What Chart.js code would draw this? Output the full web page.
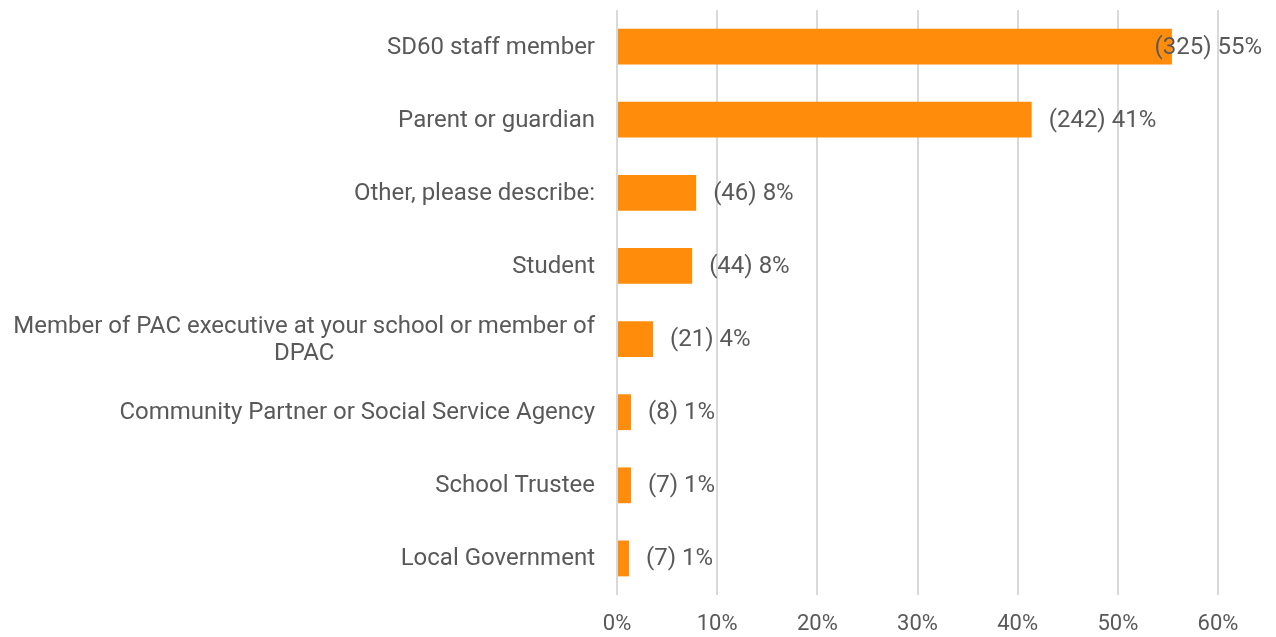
<!DOCTYPE html>
<html>
<head>
<meta charset="utf-8">
<script src="https://cdn.jsdelivr.net/npm/chart.js@4"></script>
<style>
  html, body { margin: 0; padding: 0; background: #fff; }
  #wrap { width: 1276px; height: 637px; }
</style>
</head>
<body>
<div id="wrap"><canvas id="myChart"></canvas></div>
<script>
const categories = [
  'SD60 staff member',
  'Parent or guardian',
  'Other, please describe:',
  'Student',
  ['Member of PAC executive at your school or member of', 'DPAC'],
  'Community Partner or Social Service Agency',
  'School Trustee',
  'Local Government'
]
const counts = [325, 242, 46, 44, 21, 8, 7, 7]
const percents = [55.4, 41.4, 7.9, 7.5, 3.6, 1.4, 1.4, 1.2]
const xTicks = [0, 10, 20, 30, 40, 50, 60]

const textColor = '#595959'
const fontFamily = 'Roboto, "Noto Sans", sans-serif'
const fontSize = 24

// category labels drawn by hand so wrapped lines are centred like the original
const categoryLabels = {
  id: 'categoryLabels',
  afterDraw(chart) {
    const ctx = chart.ctx
    const y = chart.scales.y
    const right = chart.chartArea.left - 22
    const lh = 27
    ctx.save()
    ctx.font = `${fontSize}px ${fontFamily}`
    ctx.fillStyle = textColor
    ctx.textBaseline = 'middle'
    ctx.textAlign = 'center'
    categories.forEach((lab, i) => {
      const lines = Array.isArray(lab) ? lab : [lab]
      const w = Math.max(...lines.map(l => ctx.measureText(l).width))
      const cx = right - w / 2
      const cy = y.getPixelForValue(i) + 1
      lines.forEach((l, j) => {
        ctx.fillText(l, cx, cy + (j - (lines.length - 1) / 2) * lh)
      })
    })
    ctx.restore()
  }
}

// value labels "(n) p%" after each bar, kept inside the canvas
const valueLabels = {
  id: 'valueLabels',
  afterDatasetsDraw(chart) {
    const ctx = chart.ctx
    const meta = chart.getDatasetMeta(0)
    ctx.save()
    ctx.font = `${fontSize}px ${fontFamily}`
    ctx.fillStyle = textColor
    ctx.textBaseline = 'middle'
    ctx.textAlign = 'left'
    meta.data.forEach((bar, i) => {
      const txt = `(${counts[i]}) ${Math.round(percents[i])}%`
      const w = ctx.measureText(txt).width
      let x = bar.x + 17
      if (x + w > chart.width - 14) x = chart.width - 14 - w
      ctx.fillText(txt, x, bar.y + 1)
    })
    ctx.restore()
  }
}

const ctx = document.getElementById('myChart').getContext('2d')
const chart = new Chart(ctx, {
  type: 'bar',
  data: {
    labels: categories,
    datasets: [{
      data: percents,
      backgroundColor: '#FF8C0A',
      barPercentage: 0.49,
      categoryPercentage: 1
    }]
  },
  options: {
    indexAxis: 'y',
    responsive: true,
    maintainAspectRatio: false,
    animation: false,
    layout: { padding: { left: 617, right: 58, top: 10, bottom: 0 } },
    plugins: { legend: { display: false }, tooltip: { enabled: false } },
    scales: {
      x: {
        min: 0,
        max: 60,
        afterBuildTicks(scale) { scale.ticks = xTicks.map(v => ({ value: v })) },
        afterFit(scale) { scale.height = 42 },
        grid: { color: '#d9d9d9', lineWidth: 2, drawTicks: false },
        border: { display: false },
        ticks: {
          padding: 16,
          color: textColor,
          font: { family: fontFamily, size: 22 },
          callback: v => v + '%'
        }
      },
      y: {
        display: false
      }
    }
  },
  plugins: [categoryLabels, valueLabels]
})
</script>
</body>
</html>
